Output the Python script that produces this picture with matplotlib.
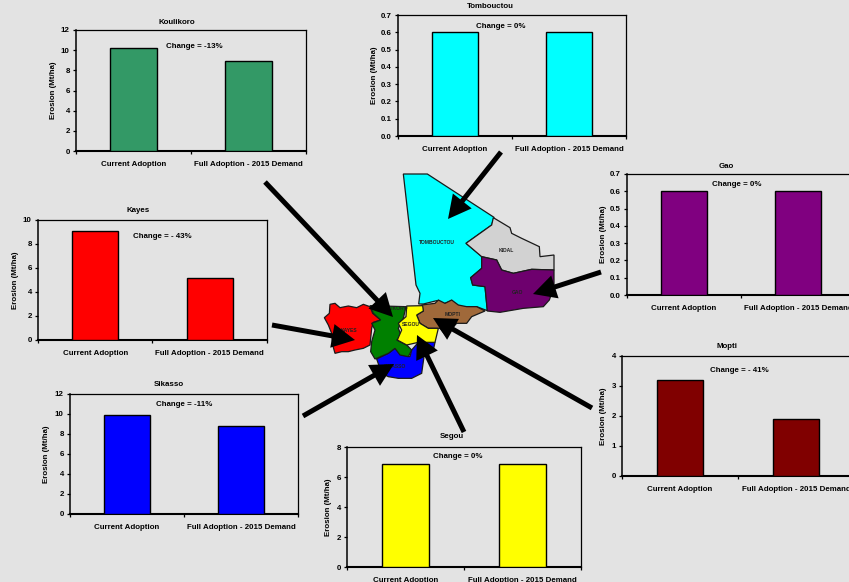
import matplotlib
matplotlib.use('Agg')
import matplotlib.pyplot as plt
import numpy as np
from matplotlib.patches import Polygon, FancyArrow

W, H = 849, 582
BG = '#e3e3e3'
FS = 5.7

plt.rcParams['font.family'] = ['Liberation Sans', 'DejaVu Sans']
plt.rcParams['font.weight'] = 'bold'

categories = ['Current Adoption', 'Full Adoption - 2015 Demand']

regions = ['Koulikoro', 'Tombouctou', 'Gao', 'Kayes', 'Mopti', 'Sikasso', 'Segou']
current = [10.2, 0.6, 0.6, 9.1, 3.2, 9.9, 6.9]
full = [8.9, 0.6, 0.6, 5.2, 1.9, 8.8, 6.9]
changes = ['Change = -13%', 'Change = 0%', 'Change = 0%', 'Change = - 43%',
           'Change = - 41%', 'Change = -11%', 'Change = 0%']
y_max = [12, 0.7, 0.7, 10, 4, 12, 8]
y_step = [2, 0.1, 0.1, 2, 1, 2, 2]
y_fmt = ['%d', '%.1f', '%.1f', '%d', '%d', '%d', '%d']
colors = ['#339966', '#00ffff', '#800080', '#ff0000', '#800000', '#0000ff', '#ffff00']

# left, top, width, height of each chart in pixels
boxes = [(76, 30, 230, 121), (398, 15, 228, 121), (627, 174, 228, 121),
         (38, 220, 229, 120), (622, 356, 232, 120), (70, 394, 228, 120),
         (347, 447, 234, 120)]
title_xy = [(177, 22), (490, 7), (726, 166), (138, 210), (727, 347), (169, 385), (452, 437)]
change_xy = [(194, 47), (501, 26), (737, 185), (162, 237), (739, 370), (184, 405), (458, 457)]
ylabel_off = [19, 20, 20, 19, 15, 20, 15]

# map outlines, in units of a third of a pixel
tombouctou = [(280, 42), (352, 42), (552, 172), (545, 195), (510, 220), (468, 250), (516, 290),
              (515, 325), (482, 353), (488, 375), (525, 380), (532, 452), (500, 440), (445, 440),
              (425, 422), (400, 432), (380, 422), (340, 432), (326, 432), (330, 400), (318, 375)]
kidal = [(550, 173), (600, 203), (605, 220), (635, 235), (688, 260), (690, 290), (732, 285),
         (732, 330), (665, 328), (610, 340), (575, 330), (560, 300), (515, 290), (468, 250),
         (510, 220), (545, 195)]
gao = [(515, 290), (560, 300), (575, 330), (610, 340), (665, 328), (732, 330), (732, 380),
       (718, 420), (700, 440), (640, 445), (570, 457), (532, 453), (525, 380), (488, 375),
       (482, 353), (515, 325)]
kayes = [(60, 433), (75, 430), (90, 443), (115, 438), (140, 443), (160, 433), (180, 440),
         (188, 460), (212, 480), (190, 487), (185, 505), (180, 555), (160, 565), (135, 570),
         (115, 575), (95, 575), (75, 580), (68, 555), (65, 520), (55, 495), (43, 473), (58, 460)]
koulikoro = [(180, 437), (288, 440), (280, 475), (265, 505), (275, 530), (260, 540), (290, 555),
             (305, 570), (295, 590), (270, 585), (255, 565), (235, 580), (195, 597), (182, 575),
             (185, 545), (195, 510), (185, 490), (212, 480), (190, 460)]
mopti = [(335, 435), (375, 430), (385, 420), (405, 430), (425, 420), (445, 435), (470, 440),
         (500, 440), (525, 453), (485, 470), (470, 490), (440, 490), (425, 505), (410, 530),
         (390, 505), (355, 505), (330, 490), (320, 465), (340, 453)]
segou = [(290, 438), (338, 437), (340, 453), (320, 465), (330, 490), (355, 505), (385, 505),
         (375, 547), (325, 547), (290, 555), (262, 540), (275, 510), (265, 490), (288, 470)]
sikasso = [(200, 597), (235, 580), (255, 565), (275, 585), (300, 590), (305, 570), (325, 547),
           (375, 547), (370, 570), (342, 590), (335, 640), (305, 655), (265, 655), (235, 650),
           (215, 640)]
map_shapes = [(tombouctou, '#00ffff'), (kidal, '#d2d2d2'), (gao, '#6e006e'), (kayes, '#ff0000'),
              (sikasso, '#0000ff'), (koulikoro, '#008000'), (mopti, '#a0693a'), (segou, '#ffff00')]

map_labels = [('TOMBOUCTOU', 437, 243), ('KIDAL', 506, 251), ('GAO', 517, 292), ('MOPTI', 453, 315),
              ('SEGOU', 411, 325), ('KOULIKORO', 393, 309), ('KAYES', 349, 330), ('SIKASSO', 395, 367)]

# pointers: tail, tip
pointers = [((265, 182), (393, 317)), ((501, 152), (448, 219)), ((601, 272), (533, 294)),
            ((272, 325), (355, 340)), ((592, 408), (433, 318)), ((303, 416), (394, 364)),
            ((464, 432), (417, 335))]

fig = plt.figure(figsize=(W / 100, H / 100), dpi=100, facecolor=BG)


def draw_chart(i):
    left, top, w, h = boxes[i]
    ax = fig.add_axes([left / W, 1 - (top + h) / H, w / W, h / H], facecolor=BG)
    ax.bar([0, 1], [current[i], full[i]], width=0.405, color=colors[i],
           edgecolor='black', linewidth=1.0, zorder=3)
    ax.set_xlim(-0.5, 1.5)
    ax.set_ylim(0, y_max[i])
    ax.set_xticks([0, 1])
    ax.set_xticklabels(categories, fontsize=FS)
    ax.set_xticks([-0.5, 0.5, 1.5], minor=True)
    ax.tick_params(axis='x', which='major', length=0, pad=7.5)
    ax.tick_params(axis='x', which='minor', length=2, width=0.9)
    ticks = np.arange(0, y_max[i] + y_step[i] / 2, y_step[i])
    ax.set_yticks(ticks)
    ax.set_yticklabels([y_fmt[i] % t for t in ticks], fontsize=FS)
    ax.tick_params(axis='y', length=2.5, width=0.9, pad=2)
    ax.set_ylabel('Erosion (Mt/ha)', fontsize=FS, fontweight='bold')
    ax.yaxis.set_label_coords(-ylabel_off[i] / w, 0.5)
    for s in ax.spines.values():
        s.set_linewidth(0.9)
    ax.spines['left'].set_linewidth(1.1)
    ax.spines['bottom'].set_linewidth(1.5)


for i in range(len(regions)):
    draw_chart(i)

# overlay in pixel coordinates for the map, pointers and free text
over = fig.add_axes([0, 0, 1, 1], facecolor='none')
over.set_xlim(0, W)
over.set_ylim(H, 0)
over.axis('off')

for i, name in enumerate(regions):
    over.text(title_xy[i][0], title_xy[i][1], name, fontsize=FS, ha='center', va='center')
    over.text(change_xy[i][0], change_xy[i][1], changes[i], fontsize=FS, ha='center', va='center')

for pts, col in map_shapes:
    xy = np.array(pts) / 3 + [310, 160]
    over.add_patch(Polygon(xy, closed=True, facecolor=col, edgecolor='#1a1a1a', linewidth=0.9, zorder=2))

for label, x, y in map_labels:
    over.text(x, y, label, fontsize=3.6, ha='center', va='center', color='#222222', zorder=3)

for tail, tip in pointers:
    over.add_patch(FancyArrow(tail[0], tail[1], tip[0] - tail[0], tip[1] - tail[1], width=5,
                              head_width=24, head_length=23, length_includes_head=True,
                              facecolor='black', edgecolor='none', zorder=4))

plt.savefig('out.png', dpi=100, facecolor=BG)
